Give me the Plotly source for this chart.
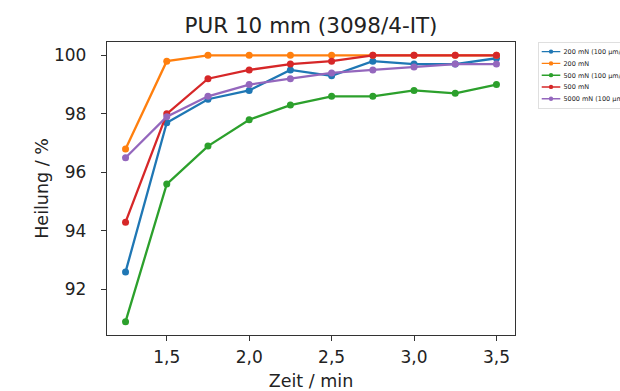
import plotly.graph_objects as go

zeit = [1.25, 1.5, 1.75, 2.0, 2.25, 2.5, 2.75, 3.0, 3.25, 3.5]

labels = ["200 mN (100 µm/s)", "200 mN", "500 mN (100 µm/s)", "500 mN", "5000 mN (100 µm/s)"]
colors = ["#1f77b4", "#ff7f0e", "#2ca02c", "#d62728", "#9467bd"]

s_200_100 = [92.6, 97.7, 98.5, 98.8, 99.5, 99.3, 99.8, 99.7, 99.7, 99.9]
s_200 = [96.8, 99.8, 100.0, 100.0, 100.0, 100.0, 100.0, 100.0, 100.0, 100.0]
s_500_100 = [90.9, 95.6, 96.9, 97.8, 98.3, 98.6, 98.6, 98.8, 98.7, 99.0]
s_500 = [94.3, 98.0, 99.2, 99.5, 99.7, 99.8, 100.0, 100.0, 100.0, 100.0]
s_5000_100 = [96.5, 97.9, 98.6, 99.0, 99.2, 99.4, 99.5, 99.6, 99.7, 99.7]

series = [s_200_100, s_200, s_500_100, s_500, s_5000_100]

x_ticks = [1.5, 2.0, 2.5, 3.0, 3.5]
x_ticktext = ["1,5", "2,0", "2,5", "3,0", "3,5"]
y_ticks = [92, 94, 96, 98, 100]

fig = go.Figure()
for name, col, ys in zip(labels, colors, series):
    fig.add_trace(go.Scatter(
        x=zeit, y=ys, name=name, mode="lines+markers",
        line=dict(color=col, width=2.3),
        marker=dict(color=col, size=7),
    ))

font_family = "DejaVu Sans"
fig.update_layout(
    width=620, height=391,
    margin=dict(l=107, r=105, t=42, b=56),
    paper_bgcolor="white", plot_bgcolor="white",
    font=dict(family=font_family, color="#222222", size=17),
    title=dict(text="PUR 10 mm (3098/4-IT)", x=0.5, xref="paper", xanchor="center",
               y=1 - 25 / 391, yanchor="middle", font=dict(size=21.5)),
    showlegend=True,
    legend=dict(
        xref="container", yref="container", x=538 / 620, y=1 - 42 / 391,
        xanchor="left", yanchor="top",
        font=dict(size=10.5), bordercolor="#cccccc", borderwidth=1,
        bgcolor="white", tracegroupgap=0,
    ),
)
fig.update_xaxes(
    range=[1.1375, 3.6125], tickvals=x_ticks, ticktext=x_ticktext,
    showgrid=False, zeroline=False, showline=True, mirror=True, automargin=False,
    linecolor="#333333", linewidth=1.3, ticks="outside", ticklen=5, tickcolor="#333333",
    tickfont=dict(size=17), ticklabelstandoff=1,
    title=dict(text="Zeit / min", standoff=10, font=dict(size=17.5)),
)
fig.update_yaxes(
    range=[90.445, 100.455], tickvals=y_ticks,
    showgrid=False, zeroline=False, showline=True, mirror=True, automargin=False,
    linecolor="#333333", linewidth=1.3, ticks="outside", ticklen=5, tickcolor="#333333",
    tickfont=dict(size=17), ticklabelstandoff=11,
    title=dict(text="Heilung / %", standoff=0, font=dict(size=17.5)),
)

post = """
document.body.style.margin = '0';
var gd = document.getElementById('{plot_id}');
var lg = gd.querySelector('g.legend');
if (lg) { lg.setAttribute('transform', lg.getAttribute('transform') + ' scale(0.62)'); }
"""
fig.write_html("out.html", post_script=post, config={"displayModeBar": False})
